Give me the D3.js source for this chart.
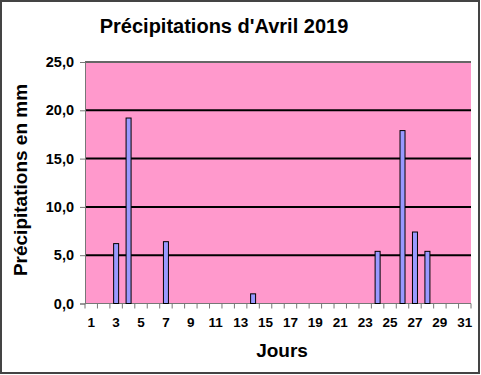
<!DOCTYPE html>
<html>
<head>
<meta charset="utf-8">
<script src="https://cdn.jsdelivr.net/npm/d3@7/dist/d3.min.js"></script>
<style>
  body { margin: 0; background: #fff; }
  text { font-family: "Liberation Sans", Arial, sans-serif; font-weight: bold; fill: #000; }
</style>
</head>
<body>
<figure id="chart" style="margin:0"></figure>
<script>
// days of the month (axis shows 1..31)
const days = d3.range(1, 32);
// rainfall in mm
const rainDays = [3, 4, 7, 14, 24, 26, 27, 28];
const rainValues = [6.2, 19.2, 6.4, 1.0, 5.4, 17.9, 7.4, 5.4];
const yTicks = [0, 5, 10, 15, 20, 25];
const xLabels = d3.range(1, 32, 2);

const width = 481, height = 375;
const margin = { top: 62, right: 10, bottom: 72, left: 85 };
const plotW = 471 - margin.left;
const plotH = 303.5 - margin.top;

const svg = d3.select("#chart").append("svg")
  .attr("width", width)
  .attr("height", height);

// outer frame
svg.append("rect")
  .attr("x", 1).attr("y", 1)
  .attr("width", 478).attr("height", 372)
  .attr("fill", "#fff")
  .attr("stroke", "#444")
  .attr("stroke-width", 2);

const g = svg.append("g")
  .attr("transform", `translate(${margin.left}, ${margin.top})`);

const x = d3.scaleBand().domain(days).range([0, plotW]);
const y = d3.scaleLinear().domain([0, 25]).range([plotH, 0]);

// plot area
g.append("rect")
  .attr("width", plotW).attr("height", plotH)
  .attr("fill", "#ff99cc");
g.append("line")
  .attr("x1", 0).attr("x2", plotW)
  .attr("y1", 0).attr("y2", 0)
  .attr("stroke", "#666").attr("stroke-width", 2);

// gridlines
g.selectAll("line.grid")
  .data(yTicks.filter(d => d > 0 && d < 25))
  .enter().append("line")
  .attr("class", "grid")
  .attr("x1", 0).attr("x2", plotW)
  .attr("y1", d => y(d)).attr("y2", d => y(d))
  .attr("stroke", "#000").attr("stroke-width", 2);

// y axis
const yAxis = d3.axisLeft(y).tickValues(yTicks).tickSize(5).tickPadding(6)
  .tickFormat(d => d3.format(".1f")(d).replace(".", ","));
const ya = g.append("g").call(yAxis);
ya.select(".domain").attr("stroke", "#777");
ya.selectAll(".tick line").attr("stroke", "#777");
ya.selectAll("text").attr("font-size", 14.5).attr("font-family", null);

// x axis: ticks at category boundaries, labels every other day
const xa = g.append("g").attr("transform", `translate(0, ${plotH})`);
xa.append("line")
  .attr("x1", 0).attr("x2", plotW)
  .attr("stroke", "#777");
xa.selectAll("line.tk")
  .data(d3.range(0, days.length + 1))
  .enter().append("line")
  .attr("class", "tk")
  .attr("x1", i => i * x.bandwidth()).attr("x2", i => i * x.bandwidth())
  .attr("y1", 0).attr("y2", 5)
  .attr("stroke", "#777");
xa.selectAll("text")
  .data(xLabels)
  .enter().append("text")
  .attr("x", d => x(d) + x.bandwidth() / 2)
  .attr("y", 23.5)
  .attr("text-anchor", "middle")
  .attr("font-size", 13.5)
  .text(d => d);

// bars
const bw = 5;
g.selectAll("rect.bar")
  .data(rainDays.map((d, i) => ({ day: d, mm: rainValues[i] })))
  .enter().append("rect")
  .attr("class", "bar")
  .attr("x", d => x(d.day) + (x.bandwidth() - bw) / 2)
  .attr("y", d => y(d.mm))
  .attr("width", bw)
  .attr("height", d => plotH - y(d.mm))
  .attr("fill", "#9999ff")
  .attr("stroke", "#000")
  .attr("stroke-width", 1);

// titles
svg.append("text")
  .attr("x", 224).attr("y", 33)
  .attr("text-anchor", "middle")
  .attr("font-size", 20)
  .text("Précipitations d'Avril 2019");

svg.append("text")
  .attr("x", 282).attr("y", 357)
  .attr("text-anchor", "middle")
  .attr("font-size", 19)
  .text("Jours");

svg.append("text")
  .attr("transform", "translate(27, 180) rotate(-90)")
  .attr("text-anchor", "middle")
  .attr("font-size", 19)
  .text("Précipitations en mm");
</script>
</body>
</html>
